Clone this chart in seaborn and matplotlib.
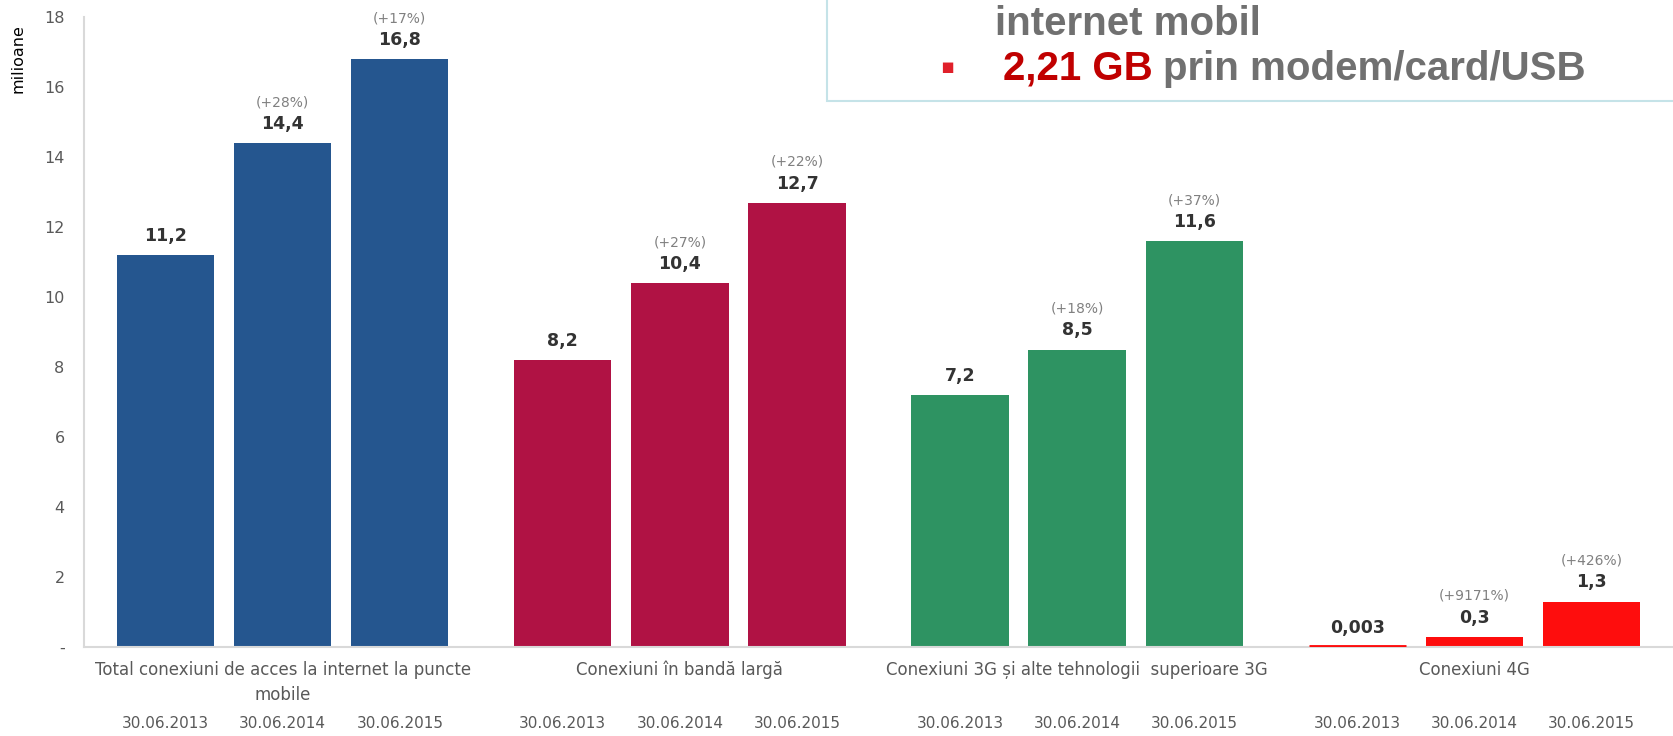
import numpy as np
import pandas as pd
import matplotlib
matplotlib.use("Agg")
import matplotlib.pyplot as plt
from matplotlib.patches import Rectangle
import seaborn as sns

# data
categories = [
    "Total conexiuni de acces la internet la puncte\nmobile",
    "Conexiuni în bandă largă",
    "Conexiuni 3G și alte tehnologii  superioare 3G",
    "Conexiuni 4G",
]
dates = ["30.06.2013", "30.06.2014", "30.06.2015"]
v2013 = [11.2, 8.2, 7.2, 0.003]
v2014 = [14.4, 10.4, 8.5, 0.3]
v2015 = [16.8, 12.7, 11.6, 1.3]
lbl2013 = ["11,2", "8,2", "7,2", "0,003"]
lbl2014 = ["14,4", "10,4", "8,5", "0,3"]
lbl2015 = ["16,8", "12,7", "11,6", "1,3"]
pct2013 = ["", "", "", ""]
pct2014 = ["(+28%)", "(+27%)", "(+18%)", "(+9171%)"]
pct2015 = ["(+17%)", "(+22%)", "(+37%)", "(+426%)"]
group_colors = ["#25568f", "#b01244", "#2e9362", "#fe0d0d"]


def main():
    df = pd.DataFrame({
        "categorie": categories * 3,
        "data": np.repeat(dates, len(categories)),
        "valoare": v2013 + v2014 + v2015,
    })

    sns.set_theme(style="white")
    plt.rcParams['font.family'] = ['DejaVu Sans']

    W, H = 1673, 736
    fig, ax = plt.subplots(figsize=(W / 100, H / 100), dpi=100)
    fig.subplots_adjust(left=84 / W, right=1.0, bottom=(H - 647) / H, top=(H - 17) / H)

    sns.barplot(data=df, x="categorie", y="valoare", hue="data", order=categories,
                hue_order=dates, width=0.885, gap=0.17, legend=False,
                errorbar=None, ax=ax)

    labels = [lbl2013, lbl2014, lbl2015]
    pcts = [pct2013, pct2014, pct2015]
    for i, container in enumerate(ax.containers):
        for j, bar in enumerate(container):
            bar.set_facecolor(group_colors[j])
            bar.set_edgecolor(group_colors[j])
            if bar.get_height() < 0.05:
                # very small bar still shows as a thin line, as in the source
                bar.set_linewidth(3.5)
                bar.set_zorder(3)
            else:
                bar.set_linewidth(0)
            xc = bar.get_x() + bar.get_width() / 2
            top = bar.get_height()
            ax.annotate(labels[i][j], xy=(xc, top), xytext=(0, 19),
                        textcoords="offset pixels", ha="center", va="center",
                        fontsize=12.5, fontweight="bold", color="#333333")
            if pcts[i][j]:
                ax.annotate(pcts[i][j], xy=(xc, top), xytext=(0, 41),
                            textcoords="offset pixels", ha="center", va="center",
                            fontsize=10, color="#808080")
            ax.annotate(dates[i], xy=(xc, 0), xytext=(0, -76),
                        textcoords="offset pixels", ha="center", va="center",
                        fontsize=11, color="#595959", annotation_clip=False)

    ax.set_xlim(-0.5, 3.5)
    ax.set_ylim(0, 18)
    yt = list(range(0, 19, 2))
    ax.set_yticks(yt)
    ax.set_yticklabels(["-"] + [str(t) for t in yt[1:]])
    ax.set_xticks(range(len(categories)))
    ax.set_xticklabels(categories, fontsize=12, color="#595959", linespacing=1.5)
    ax.tick_params(axis="x", length=0, pad=10)
    ax.tick_params(axis="y", length=0, pad=14, labelsize=11.5, labelcolor="#595959")
    ax.set_xlabel("")
    ax.set_ylabel("")
    for s in ["top", "right"]:
        ax.spines[s].set_visible(False)
    for s in ["left", "bottom"]:
        ax.spines[s].set_color("#d9d9d9")
        ax.spines[s].set_linewidth(1.5)

    fig.text(18 / W, 1 - 59 / H, "milioane", rotation=90, ha="center", va="center",
             fontsize=11.5, color="black")

    # overlapping text box from the slide (top right)
    box = Rectangle((827 / W, 1 - 101 / H), (W - 827) / W + 0.01, 101 / H + 0.01,
                    transform=fig.transFigure, facecolor="white",
                    edgecolor="#c5e3e8", linewidth=1.5, zorder=2)
    fig.patches.append(box)
    bold = dict(family=["Liberation Sans", "DejaVu Sans"], fontweight="bold",
                fontsize=29, va="baseline", zorder=3)
    fig.text(995 / W, 1 - 35 / H, "internet mobil", color="#707070", ha="left", **bold)
    fig.text(1003 / W, 1 - 80 / H, "2,21 GB", color="#c00000", ha="left", **bold)
    fig.text(1163 / W, 1 - 80 / H, "prin modem/card/USB", color="#707070", ha="left", **bold)
    fig.text(947 / W, 1 - 67 / H, "▪", color="#e0202a", ha="center", va="center",
             fontsize=15, zorder=3)

    fig.savefig("out.png", dpi=100)


if __name__ == "__main__":
    main()
